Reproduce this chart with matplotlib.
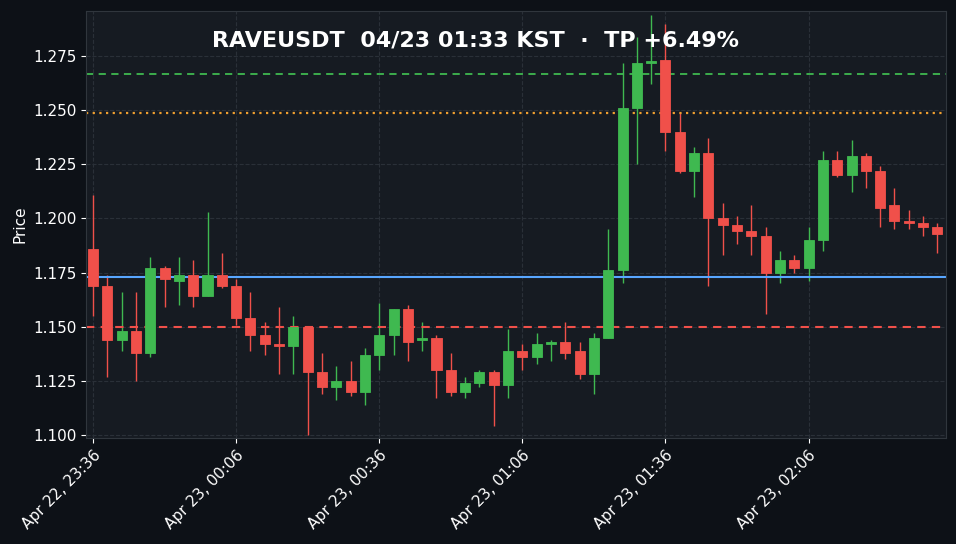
import matplotlib
matplotlib.use("Agg")
import matplotlib.pyplot as plt
import numpy as np

opens  = [1.186,1.169,1.144,1.148,1.138,1.177,1.171,1.174,1.164,1.174,
          1.169,1.154,1.146,1.142,1.141,1.150,1.129,1.122,1.125,1.120,
          1.137,1.146,1.158,1.144,1.145,1.130,1.120,1.124,1.129,1.123,
          1.139,1.136,1.142,1.143,1.139,1.128,1.145,1.176,1.251,1.2718,
          1.273,1.240,1.222,1.230,1.200,1.197,1.194,1.192,1.175,1.181,
          1.177,1.190,1.227,1.220,1.229,1.222,1.206,1.199,1.198,1.196]
closes = [1.169,1.144,1.148,1.138,1.177,1.172,1.174,1.164,1.174,1.169,
          1.154,1.146,1.142,1.141,1.150,1.129,1.122,1.125,1.120,1.137,
          1.146,1.158,1.143,1.145,1.130,1.120,1.124,1.129,1.123,1.139,
          1.136,1.142,1.143,1.138,1.128,1.145,1.176,1.251,1.272,1.2725,
          1.240,1.222,1.230,1.200,1.197,1.194,1.192,1.175,1.181,1.177,
          1.190,1.227,1.220,1.229,1.222,1.205,1.199,1.198,1.196,1.193]
highs  = [1.211,1.174,1.166,1.166,1.182,1.178,1.182,1.181,1.203,1.184,
          1.172,1.166,1.152,1.159,1.155,1.150,1.138,1.132,1.134,1.140,
          1.161,1.158,1.160,1.152,1.146,1.138,1.127,1.130,1.130,1.149,
          1.142,1.147,1.144,1.152,1.143,1.147,1.195,1.272,1.284,1.294,
          1.290,1.249,1.233,1.237,1.207,1.201,1.206,1.196,1.185,1.183,
          1.196,1.231,1.231,1.236,1.230,1.224,1.214,1.204,1.201,1.198]
lows   = [1.155,1.127,1.139,1.125,1.136,1.159,1.160,1.159,1.164,1.168,
          1.151,1.139,1.137,1.128,1.128,1.100,1.119,1.116,1.118,1.114,
          1.130,1.137,1.134,1.139,1.117,1.118,1.117,1.122,1.104,1.117,
          1.130,1.133,1.134,1.135,1.126,1.119,1.145,1.170,1.225,1.262,
          1.231,1.221,1.210,1.169,1.183,1.188,1.183,1.156,1.170,1.175,
          1.171,1.185,1.219,1.212,1.214,1.196,1.195,1.195,1.192,1.184]
tick_labels = ["Apr 22, 23:36","Apr 23, 00:06","Apr 23, 00:36",
               "Apr 23, 01:06","Apr 23, 01:36","Apr 23, 02:06"]
level_tp = 1.2667
level_mid = 1.2487
level_entry = 1.1730
level_sl = 1.1498
title = "RAVEUSDT  04/23 01:33 KST  ·  TP +6.49%"

BG = "#0d1117"; AX = "#161b22"; UP = "#3fb950"; DN = "#f0504a"
fig = plt.figure(figsize=(9.56, 5.44), dpi=100, facecolor=BG)
ax = fig.add_axes([86/956, 1-438/544, 860/956, 427/544], facecolor=AX)
x = np.arange(len(opens))
for i in x:
    o, c, h, l = opens[i], closes[i], highs[i], lows[i]
    col = UP if c >= o else DN
    ax.vlines(i, l, h, color=col, lw=1, zorder=2)
    ax.bar(i, max(abs(c-o), 0.0008), bottom=min(o, c), width=0.7,
           color=col, edgecolor=col, lw=0.6, zorder=3)
ax.axhline(level_tp, color=UP, ls=(0,(4,3)), lw=1.3)
ax.axhline(level_mid, color="#f0a030", ls=(0,(1,2)), lw=1.6)
ax.axhline(level_entry, color="#58a6ff", ls="-", lw=1.5)
ax.axhline(level_sl, color=DN, ls=(0,(4,3)), lw=1.5)
ax.set_xlim(-0.49, 59.6)
ax.set_ylim(1.0986, 1.2958)
ax.set_xticks(np.arange(0, 60, 10))
ax.set_xticklabels(tick_labels, rotation=45, ha="right", rotation_mode="anchor", color="white", fontsize=11)
ax.set_yticks(np.arange(1.100, 1.276, 0.025))
ax.set_yticklabels([f"{v:.3f}" for v in np.arange(1.100, 1.276, 0.025)], color="white", fontsize=11)
ax.set_ylabel("Price", color="white", fontsize=11)
ax.grid(True, color="#2a3038", ls="--", lw=0.8, zorder=0)
ax.tick_params(colors="white")
for s in ax.spines.values():
    s.set_color("#30363d")
fig.text(0.497, 1-41/544, title, color="white", fontsize=16, fontweight="bold", ha="center", va="center")
fig.savefig("out.png", dpi=100, facecolor=BG)
